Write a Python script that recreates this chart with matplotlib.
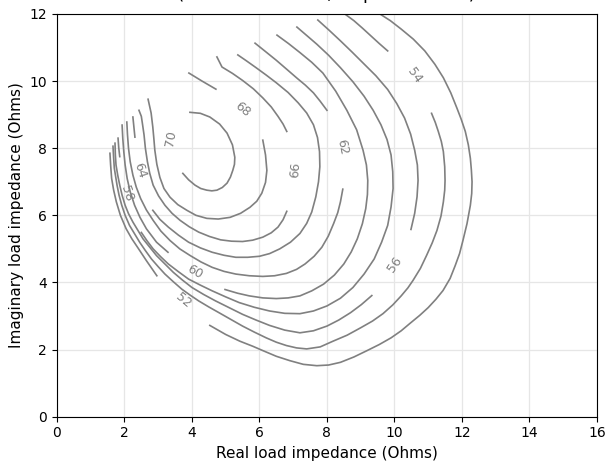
import numpy as np
import matplotlib.pyplot as plt

# efficiency contour traces (real, imag) in ohms, one list of segments per level
eff_52 = [
    [(1.57, 7.85), (1.59, 7.50), (1.62, 7.10), (1.68, 6.75), (1.76, 6.40), (1.88, 6.00),
     (2.05, 5.60), (2.22, 5.30), (2.40, 5.03), (2.65, 4.65), (2.96, 4.20)],
    [(4.53, 2.72), (5.00, 2.45), (5.42, 2.25), (5.80, 2.10), (6.10, 1.97), (6.50, 1.80),
     (6.90, 1.67), (7.30, 1.56), (7.70, 1.52), (8.05, 1.54), (8.40, 1.62), (8.80, 1.78),
     (9.19, 1.97), (9.55, 2.15), (9.90, 2.35), (10.20, 2.56), (10.46, 2.78), (10.75, 3.02),
     (11.00, 3.25), (11.23, 3.50), (11.44, 3.76), (11.65, 4.12), (11.80, 4.50),
     (11.93, 4.86), (12.03, 5.25), (12.15, 5.75), (12.25, 6.30), (12.29, 6.65),
     (12.30, 7.00), (12.28, 7.35), (12.25, 7.70), (12.19, 8.10), (12.10, 8.50),
     (11.98, 8.86), (11.85, 9.20), (11.67, 9.65), (11.45, 10.10), (11.20, 10.50),
     (10.90, 10.90), (10.56, 11.25), (10.20, 11.55), (9.88, 11.80), (9.57, 12.00),
     (9.20, 12.30)],
]
eff_54 = [
    [(1.66, 8.06), (1.68, 7.70), (1.70, 7.40), (1.74, 7.15), (1.78, 6.90), (1.84, 6.60),
     (1.92, 6.30), (2.02, 6.00), (2.15, 5.70), (2.30, 5.45), (2.45, 5.20), (2.62, 4.95),
     (2.80, 4.70), (3.00, 4.47), (3.20, 4.25), (3.45, 4.02), (3.70, 3.80), (3.95, 3.62),
     (4.20, 3.45), (4.50, 3.27), (4.80, 3.10), (5.15, 2.90), (5.50, 2.70), (5.85, 2.52),
     (6.20, 2.35), (6.50, 2.22), (6.80, 2.12), (7.10, 2.05), (7.40, 2.02), (7.80, 2.08),
     (8.18, 2.25), (8.60, 2.43), (9.00, 2.65), (9.35, 2.85), (9.66, 3.07), (9.95, 3.33),
     (10.20, 3.60), (10.40, 3.84), (10.55, 4.06), (10.77, 4.42), (10.95, 4.80),
     (11.12, 5.18), (11.26, 5.55), (11.38, 5.98), (11.45, 6.40), (11.49, 6.75),
     (11.50, 7.04), (11.49, 7.45), (11.45, 7.90), (11.39, 8.20), (11.30, 8.50),
     (11.21, 8.77), (11.10, 9.04)],
    [(9.80, 10.90), (9.55, 11.12), (9.30, 11.35), (9.05, 11.58), (8.80, 11.80),
     (8.53, 12.00), (8.20, 12.30)],
]
eff_56 = [
    [(1.72, 8.15), (1.73, 7.80), (1.75, 7.50), (1.80, 7.20), (1.86, 6.90), (1.93, 6.60),
     (2.02, 6.30), (2.12, 6.05), (2.25, 5.80), (2.40, 5.55), (2.55, 5.30), (2.75, 5.05),
     (2.95, 4.80), (3.20, 4.55), (3.45, 4.30), (3.72, 4.07), (4.00, 3.85), (4.35, 3.64),
     (4.70, 3.45), (5.10, 3.25), (5.50, 3.05), (5.90, 2.88), (6.30, 2.72), (6.75, 2.58),
     (7.20, 2.50), (7.60, 2.56), (8.00, 2.70), (8.35, 2.88), (8.70, 3.10), (9.02, 3.34),
     (9.33, 3.61)],
    [(10.49, 5.58), (10.60, 6.06), (10.67, 6.55), (10.70, 7.04), (10.68, 7.50),
     (10.60, 7.94), (10.48, 8.42), (10.30, 8.90), (10.07, 9.33), (9.80, 9.75),
     (9.45, 10.16), (9.07, 10.54), (8.74, 10.87), (8.40, 11.20), (8.06, 11.52),
     (7.73, 11.82)],
]
eff_58 = [
    [(1.81, 8.30), (1.83, 8.02), (1.86, 7.75)],
    [(2.50, 5.49), (2.67, 5.24), (2.85, 5.00), (3.07, 4.77), (3.30, 4.55), (3.60, 4.32),
     (3.90, 4.10), (4.25, 3.92), (4.60, 3.75), (5.00, 3.57), (5.40, 3.40), (5.85, 3.26),
     (6.30, 3.15), (6.75, 3.08), (7.20, 3.07), (7.60, 3.15), (8.00, 3.30), (8.40, 3.53),
     (8.77, 3.85), (9.10, 4.25), (9.40, 4.70), (9.62, 5.20), (9.80, 5.70), (9.90, 6.25),
     (9.96, 6.80), (9.95, 7.30), (9.90, 7.80), (9.78, 8.26), (9.60, 8.70), (9.37, 9.13),
     (9.10, 9.55), (8.77, 9.98), (8.40, 10.40), (8.05, 10.77), (7.70, 11.10),
     (7.40, 11.36), (7.11, 11.61)],
]
eff_60 = [
    [(1.93, 8.69), (1.95, 8.30), (1.98, 7.90), (2.02, 7.50), (2.08, 7.10), (2.17, 6.70),
     (2.30, 6.30), (2.46, 5.94), (2.65, 5.60), (2.95, 5.20), (3.29, 4.90)],
    [(4.98, 3.79), (5.35, 3.68), (5.70, 3.60), (6.10, 3.54), (6.50, 3.52), (6.85, 3.54),
     (7.20, 3.60), (7.55, 3.75), (7.90, 3.95), (8.22, 4.22), (8.50, 4.55), (8.72, 4.91),
     (8.90, 5.30), (9.05, 5.75), (9.15, 6.20), (9.20, 6.62), (9.21, 7.04), (9.17, 7.50),
     (9.07, 7.94), (8.88, 8.55), (8.59, 9.13), (8.26, 9.70), (7.88, 10.24), (7.55, 10.56),
     (7.20, 10.85), (6.86, 11.12), (6.52, 11.37)],
]
eff_62 = [
    [(2.07, 8.78), (2.09, 8.40), (2.12, 8.00), (2.17, 7.60), (2.25, 7.20), (2.35, 6.84),
     (2.48, 6.50), (2.65, 6.16), (2.85, 5.85), (3.08, 5.53), (3.35, 5.25), (3.64, 5.00),
     (3.95, 4.80), (4.27, 4.61), (4.60, 4.45), (4.95, 4.33), (5.30, 4.25), (5.70, 4.20),
     (6.10, 4.18), (6.45, 4.20), (6.80, 4.27), (7.10, 4.39), (7.35, 4.55), (7.62, 4.78),
     (7.85, 5.05), (8.04, 5.38), (8.20, 5.76), (8.32, 6.08), (8.40, 6.40), (8.47, 6.78)],
    [(8.00, 9.13), (7.80, 9.40), (7.60, 9.65), (7.36, 9.88), (7.11, 10.09), (6.80, 10.36),
     (6.50, 10.62), (6.18, 10.88), (5.87, 11.13)],
]
eff_64 = [
    [(2.25, 8.93), (2.28, 8.63), (2.31, 8.33)],
    [(2.84, 6.15), (3.05, 5.88), (3.30, 5.65), (3.60, 5.41), (3.90, 5.20), (4.25, 5.03),
     (4.60, 4.90), (4.95, 4.81), (5.30, 4.75), (5.65, 4.75), (6.00, 4.78), (6.30, 4.86),
     (6.60, 5.00), (6.92, 5.20), (7.20, 5.46), (7.40, 5.76), (7.55, 6.10), (7.67, 6.55),
     (7.75, 7.00), (7.79, 7.45), (7.78, 7.90), (7.72, 8.32), (7.60, 8.70), (7.40, 9.05),
     (7.15, 9.35), (6.85, 9.66), (6.50, 9.95), (6.20, 10.18), (5.90, 10.40), (5.62, 10.60),
     (5.36, 10.78)],
]
eff_66 = [
    [(4.74, 10.72), (4.89, 10.42), (5.20, 10.23), (5.50, 10.02), (5.82, 9.77),
     (6.10, 9.50), (6.35, 9.23), (6.55, 8.95), (6.70, 8.72), (6.81, 8.50)],
    [(6.81, 6.12), (6.70, 5.87), (6.55, 5.65), (6.35, 5.48), (6.10, 5.35), (5.80, 5.26),
     (5.50, 5.22), (5.17, 5.23), (4.85, 5.27), (4.52, 5.37), (4.20, 5.50), (3.92, 5.66),
     (3.65, 5.85), (3.41, 6.06), (3.20, 6.30), (3.01, 6.58), (2.85, 6.90), (2.75, 7.25),
     (2.68, 7.60), (2.62, 8.00), (2.58, 8.40), (2.53, 8.75), (2.50, 8.95), (2.43, 9.13)],
]
eff_68 = [
    [(3.91, 10.24), (4.30, 10.00), (4.71, 9.76)],
    [(6.10, 8.24), (6.18, 7.80), (6.22, 7.34), (6.18, 6.98), (6.07, 6.66), (5.92, 6.42),
     (5.72, 6.24), (5.44, 6.06), (5.13, 5.94), (4.78, 5.89), (4.44, 5.91), (4.12, 6.00),
     (3.85, 6.15), (3.58, 6.32), (3.35, 6.54), (3.17, 6.80), (3.05, 7.13), (2.96, 7.52),
     (2.90, 7.94), (2.87, 8.30), (2.84, 8.63), (2.79, 9.05), (2.70, 9.46)],
]
eff_70 = [
    [(3.94, 9.07), (4.25, 9.04), (4.53, 8.93), (4.82, 8.72), (5.04, 8.45), (5.20, 8.10),
     (5.27, 7.73), (5.26, 7.52), (5.21, 7.34), (5.14, 7.14), (5.04, 6.96), (4.90, 6.83),
     (4.74, 6.75), (4.59, 6.73), (4.44, 6.75), (4.26, 6.80), (4.09, 6.90), (3.90, 7.06),
     (3.73, 7.25)],
]

levels = [52, 54, 56, 58, 60, 62, 64, 66, 68, 70]
traces = [eff_52, eff_54, eff_56, eff_58, eff_60, eff_62, eff_64, eff_66, eff_68, eff_70]

# inline label positions and angles
label_x = [3.73, 10.58, 10.00, 2.07, 4.09, 8.44, 2.46, 7.05, 5.50, 3.38]
label_y = [3.46, 10.18, 4.55, 6.66, 4.30, 8.03, 7.34, 7.35, 9.15, 8.30]
label_rot = [-40, -55, 55, -72, -30, -78, -72, 85, -40, 80]

line_color = '#808080'

fig = plt.figure(figsize=(6.06, 4.63), dpi=100)
ax = fig.add_axes([0.094, 0.1, 0.891, 0.8698])

for lev, segs in zip(levels, traces):
    for seg in segs:
        pts = np.array(seg)
        ax.plot(pts[:, 0], pts[:, 1], color=line_color, lw=1.2)

for lev, x, y, r in zip(levels, label_x, label_y, label_rot):
    ax.text(x, y, str(lev), color=line_color, fontsize=9, rotation=r,
            ha='center', va='center', rotation_mode='anchor')

ax.set_xlim(0, 16)
ax.set_ylim(0, 12)
ax.set_xticks(range(0, 17, 2))
ax.set_yticks(range(0, 13, 2))
ax.grid(True, color='#e6e6e6', lw=0.9)
ax.set_axisbelow(True)
ax.tick_params(labelsize=10)
ax.set_xlabel('Real load impedance (Ohms)', fontsize=11)
ax.set_ylabel('Imaginary load impedance (Ohms)', fontsize=11)
# title sits above the top edge of the canvas, only its lowest strokes show
ax.set_title('Drain efficiency contours (%)\n(fc = 2.140 GHz, Idq = 250 mA)',
             fontsize=13.5, pad=11)

fig.savefig('out.png', dpi=100)
